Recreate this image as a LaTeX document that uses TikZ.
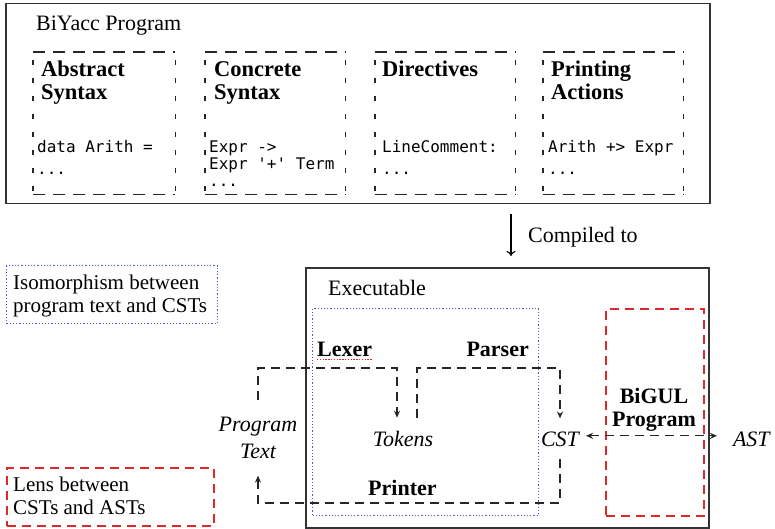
\documentclass[tikz,border=0pt]{standalone}
\usepackage{fontspec}
\setmainfont{Liberation Serif}
\newfontfamily\codefont{DejaVu Sans Mono}
\usetikzlibrary{arrows.meta}
\newcommand{\lines}[1]{\begin{tabular}[t]{@{}l@{}}#1\end{tabular}}
\definecolor{isoblue}{RGB}{75,85,220}
\definecolor{lensred}{RGB}{220,40,40}
\newcommand{\dashedpart}[1]{%
  \draw[hdash] (#1.north west) -- (#1.north east);
  \draw[hdash] (#1.south west) -- (#1.south east);
  \draw[vdash] (#1.north west) -- (#1.south west);
  \draw[vdash] (#1.north east) -- (#1.south east);}
\begin{document}
\begin{tikzpicture}[x=1pt,y=-1pt,
  frame/.style={draw=black!80, line width=1.5pt, inner sep=0pt, anchor=north west},
  partbox/.style={inner sep=0pt, anchor=north west, minimum height=142pt, minimum width=140pt},
  hdash/.style={draw=black!85, line width=1.3pt, dash pattern=on 12pt off 8pt},
  vdash/.style={draw=black!85, line width=1.3pt, dash pattern=on 5pt off 13pt, dash phase=-8pt},
  isobox/.style={draw=isoblue, line width=1.3pt, dash pattern=on 1.2pt off 2pt, inner sep=0pt, anchor=north west},
  lensbox/.style={draw=lensred, line width=1.5pt, dash pattern=on 9pt off 6pt, inner sep=0pt, anchor=north west},
  toptitle/.style={font=\fontsize{22.5}{23}\selectfont\bfseries, inner sep=0pt, anchor=base west},
  toptext/.style={font=\fontsize{22}{23}\selectfont, inner sep=0pt, anchor=base west},
  code/.style={font=\fontsize{16}{22}\selectfont\codefont, inner sep=0pt, anchor=base west},
  lbl/.style={font=\fontsize{22}{23}\selectfont, inner sep=0pt},
  blbl/.style={font=\fontsize{22}{23}\selectfont\bfseries, inner sep=0pt},
  term/.style={font=\fontsize{22}{27}\selectfont\itshape, inner sep=0pt},
  legend/.style={font=\fontsize{21}{23}\selectfont, inner sep=0pt, align=left, anchor=north west},
  flow/.style={draw=black!85, line width=1.3pt, dash pattern=on 9pt off 6pt},
  tip/.style={-{Stealth[length=7pt,width=6pt]}}
]
\useasboundingbox (0,0) rectangle (775,529);

% ---------- BiYacc program ----------
\node[frame, minimum width=704pt, minimum height=200pt] (biyacc) at (5,3) {};
\node[toptext] (biyaccT) at (36,31) {BiYacc Program};

\node[partbox, minimum width=142pt] (abs) at (33,52) {};
\node[partbox] (con) at (205,52) {};
\node[partbox] (dir) at (375,52) {};
\node[partbox] (pri) at (543,52) {};
\dashedpart{abs}
\dashedpart{con}
\dashedpart{dir}
\dashedpart{pri}

\node[toptitle] (absT) at (41,77) {\lines{Abstract\\Syntax}};
\node[toptitle] (conT) at (214,77) {\lines{Concrete\\Syntax}};
\node[toptitle] (dirT) at (382,77) {\lines{Directives}};
\node[toptitle] (priT) at (551,77) {\lines{Printing\\Actions}};

\node[code] (absC) at (37,153) {\lines{data Arith =\\...}};
\node[code, font=\fontsize{16}{17}\selectfont\codefont] (conC) at (209,153) {\lines{Expr ->\\Expr \textquotesingle+\textquotesingle{} Term\\...}};
\node[code] (dirC) at (382,153) {\lines{LineComment:\\...}};
\node[code] (priC) at (548,153) {\lines{Arith +> Expr\\...}};

% ---------- compiled to ----------
\coordinate (cstart) at (511,214);
\coordinate (cend) at (511,256);
\draw[line width=1.1pt, -{To[length=5pt,width=9pt]}] (cstart) -- (cend);
\node[lbl, anchor=base west] (comp) at (528,242) {Compiled to};

% ---------- legend ----------
\node[isobox, minimum width=211pt, minimum height=58pt] (isoleg) at (6,265) {};
\node[legend] (isolegT) at (13,275) {Isomorphism between\\program text and CSTs};
\node[lensbox, minimum width=207pt, minimum height=58pt] (lensleg) at (6,467) {};
\node[legend] (lenslegT) at (13,477) {Lens between\\CSTs and ASTs};

% ---------- executable ----------
\node[frame, minimum width=403pt, minimum height=260pt] (exe) at (305,267) {};
\node[lbl, anchor=base west] (exeT) at (328,295) {Executable};
\node[isobox, minimum width=226pt, minimum height=207pt] (iso) at (312,308) {};
\node[lensbox, minimum width=98pt, minimum height=207pt] (lens) at (605,308) {};

\node[blbl, anchor=base west] (lexer) at (317,356) {Lexer};
\draw[draw=lensred, line width=1.8pt, dash pattern=on 1.3pt off 1.5pt] ([yshift=-3.5pt]lexer.base west) -- ([yshift=-3.5pt]lexer.base east);
\node[blbl, anchor=base east] (parser) at (529,356) {Parser};
\node[blbl, anchor=base west] (printer) at (368,495) {Printer};
\node[blbl, align=center, anchor=north] (bigul) at (654,388) {BiGUL\\Program};

\node[term, align=center, anchor=north, outer ysep=17pt] (pt) at (258,400) {Program\\Text};
\node[term, anchor=base, outer ysep=13pt] (tok) at (403,446) {Tokens};
\node[term, anchor=base, outer ysep=13pt, outer xsep=7pt] (cst) at (560,446) {CST};
\node[term, anchor=base west, outer xsep=16pt] (ast) at (717,446) {AST};

\coordinate (rail) at (0,368);
\coordinate (prail) at (0,503);
\coordinate (lexdown) at ([xshift=-6pt]tok.north);
\coordinate (parup) at ([xshift=14pt]tok.north);

\draw[flow, tip] (pt.north) |- (lexdown |- rail) -- (lexdown);
\draw[flow, tip] (parup) |- (cst.north |- rail) -- (cst.north);
\draw[flow, tip] (cst.south) |- (pt.south |- prail) -- (pt.south);
\draw[flow, {Stealth[length=7pt,width=6pt]}-{Stealth[length=7pt,width=6pt]}] ([yshift=3pt]cst.east) -- ([yshift=3pt]ast.west);
\end{tikzpicture}
\end{document}
